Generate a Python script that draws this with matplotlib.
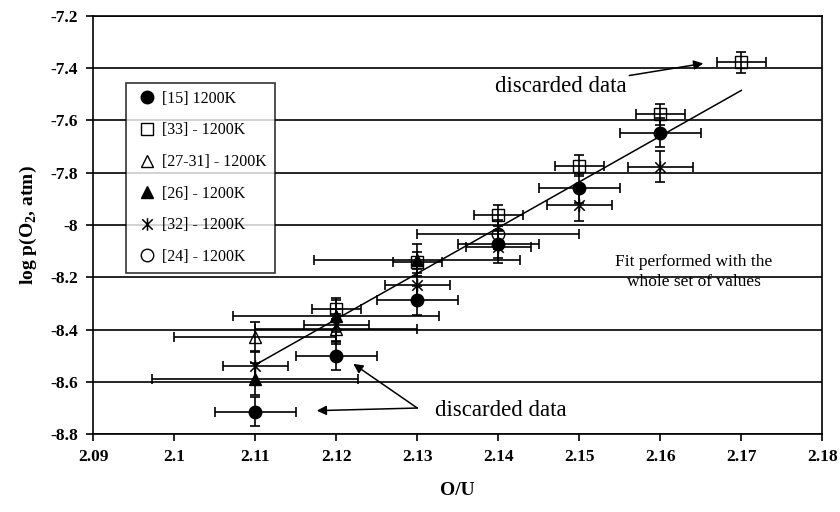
import numpy as np
import matplotlib
matplotlib.use("Agg")
import matplotlib.pyplot as plt
from matplotlib.path import Path
from matplotlib.lines import Line2D

plt.rcParams['font.family'] = ['Liberation Serif', 'DejaVu Serif']
plt.rcParams['mathtext.fontset'] = 'custom'
plt.rcParams['mathtext.rm'] = 'Liberation Serif:bold'

# data
x15 = [2.11, 2.12, 2.13, 2.14, 2.15, 2.16]
y15 = [-8.714, -8.501, -8.288, -8.073, -7.860, -7.647]
x33 = [2.12, 2.13, 2.14, 2.15, 2.16, 2.17]
y33 = [-8.321, -8.143, -7.962, -7.774, -7.576, -7.378]
x27 = [2.11, 2.12]
y27 = [-8.427, -8.397]
x26 = [2.11, 2.12, 2.13]
y26 = [-8.589, -8.348, -8.134]
x32 = [2.11, 2.12, 2.13, 2.14, 2.15, 2.16]
y32 = [-8.541, -8.382, -8.229, -8.084, -7.923, -7.777]
x24 = [2.14]
y24 = [-8.035]

# error bars (x, y) per series
err15 = (0.005, 0.055)
err33 = (0.003, 0.04)
err27 = (0.01, 0.057)
err26 = (0.0127, 0.06)
err32 = (0.004, 0.06)
err24 = (0.01, 0.055)

fit_x = [2.11, 2.17]
fit_y = [-8.535, -7.485]

xticks = [2.09, 2.10, 2.11, 2.12, 2.13, 2.14, 2.15, 2.16, 2.17, 2.18]
xlabels = ["2.09", "2.1", "2.11", "2.12", "2.13", "2.14", "2.15", "2.16", "2.17", "2.18"]
yticks = [-7.2, -7.4, -7.6, -7.8, -8.0, -8.2, -8.4, -8.6, -8.8]
ylabels = ["-7.2", "-7.4", "-7.6", "-7.8", "-8", "-8.2", "-8.4", "-8.6", "-8.8"]

labels = ["[15] 1200K", "[33] - 1200K", "[27-31] - 1200K", "[26] - 1200K",
          "[32] - 1200K", "[24] - 1200K"]

# excel-like star: X with a vertical line
star = Path([(-1, -1), (1, 1), (-1, 1), (1, -1), (0, -1.2), (0, 1.2)],
            [Path.MOVETO, Path.LINETO, Path.MOVETO, Path.LINETO, Path.MOVETO, Path.LINETO])

fig = plt.figure(figsize=(8.4, 5.12), dpi=100)
ax = fig.add_axes([0.111, 0.152, 0.868, 0.817])

for yv in yticks:
    ax.axhline(yv, color='k', lw=1.2, zorder=1)

series = [
    (x15, y15, err15, dict(marker='o', ms=9, mfc='k', mec='k')),
    (x33, y33, err33, dict(marker='s', ms=8, mfc='none', mec='k')),
    (x27, y27, err27, dict(marker='^', ms=8, mfc='none', mec='k')),
    (x26, y26, err26, dict(marker='^', ms=8, mfc='k', mec='k')),
    (x32, y32, err32, dict(marker=star, ms=9, mfc='none', mec='k', mew=1.1)),
    (x24, y24, err24, dict(marker='o', ms=9, mfc='none', mec='k')),
]
handles = []
for (xs, ys, err, st), lab in zip(series, labels):
    ax.errorbar(xs, ys, xerr=err[0], yerr=err[1], fmt='none', ecolor='k',
                elinewidth=1.2, capsize=3.5, capthick=1.2, zorder=3)
    ax.plot(xs, ys, ls='none', zorder=4, **st)
    handles.append(Line2D([], [], ls='none', label=lab, **st))

ax.plot(fit_x, fit_y, color='k', lw=1.1, zorder=2)

ax.set_xlim(2.09, 2.18)
ax.set_ylim(-8.8, -7.2)
ax.set_xticks(xticks)
ax.set_xticklabels(xlabels, fontsize=12.5, fontweight='bold')
ax.set_yticks(yticks)
ax.set_yticklabels(ylabels, fontsize=12.5, fontweight='bold')
ax.tick_params(direction='out', length=5, width=1.2, colors='k', pad=6)
for s in ax.spines.values():
    s.set_linewidth(1.2)
    s.set_color('k')

ax.set_xlabel("O/U", fontsize=14, fontweight='bold', labelpad=12)
ax.set_ylabel(r"log p(O$_\mathrm{2}$, atm)", fontsize=14, fontweight='bold', labelpad=8)

leg = ax.legend(handles=handles, loc='upper left', bbox_to_anchor=(0.0445, 0.84),
                fontsize=11.5, frameon=True, fancybox=False, edgecolor='k',
                handlelength=1.7, handletextpad=0.1, labelspacing=0.98,
                borderpad=0.5, borderaxespad=0)
leg.get_frame().set_linewidth(1.2)
leg.set_zorder(10)

arrow = dict(arrowstyle='-|>', color='k', lw=1.1, mutation_scale=14)
ax.annotate("discarded data", xy=(2.1653, -7.382), xytext=(2.1477, -7.471),
            fontsize=16.5, ha='center', va='center', arrowprops=dict(arrow, shrinkA=0, shrinkB=0))
ax.text(2.1403, -8.711, "discarded data", fontsize=16.5, ha='center', va='center')
ax.annotate("", xy=(2.1221, -8.531), xytext=(2.130, -8.70),
            arrowprops=dict(arrow, shrinkA=0, shrinkB=0))
ax.annotate("", xy=(2.1176, -8.710), xytext=(2.130, -8.70),
            arrowprops=dict(arrow, shrinkA=0, shrinkB=0))
ax.text(2.1641, -8.18, "Fit performed with the\nwhole set of values", fontsize=12.5,
        ha='center', va='center', linespacing=1.4)

fig.savefig("out.png", dpi=100)
